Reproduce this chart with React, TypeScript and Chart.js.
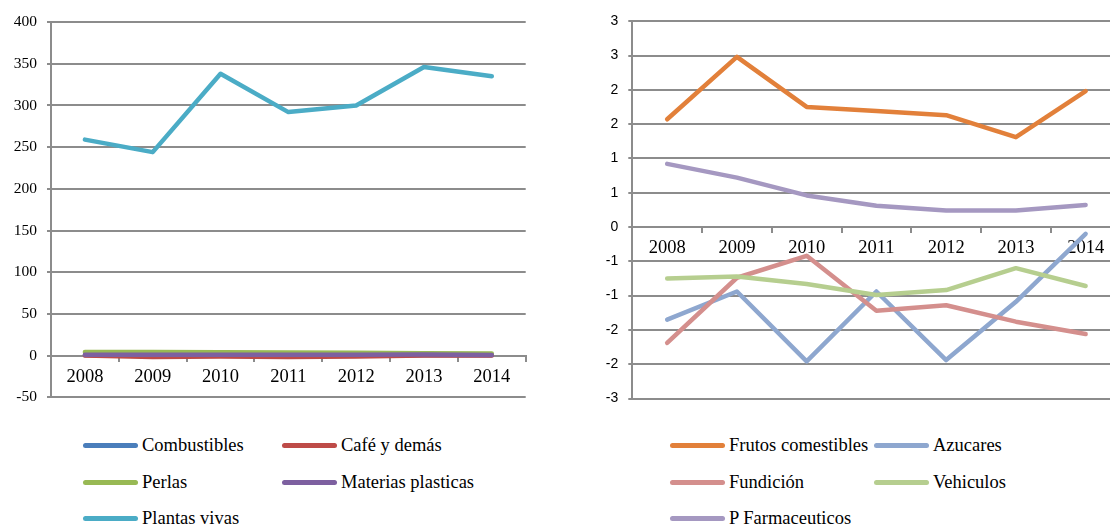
import React, { useEffect, useRef } from "react";
import { Chart, registerables } from "chart.js";

Chart.register(...registerables);

const years = ["2008", "2009", "2010", "2011", "2012", "2013", "2014"];

// Left chart series
const leftNames = ["Combustibles", "Café y demás", "Perlas", "Materias plasticas", "Plantas vivas"];
const combustibles = [0.5, 0.3, 0.4, 0.3, 0.3, 0.5, 0.4];
const cafe = [0.3, -1.5, -1.0, -1.5, -1.0, 0.2, 0.3];
const perlas = [4.5, 4.3, 4.0, 3.8, 3.6, 3.0, 2.5];
const materias = [1.0, 1.0, 1.2, 1.0, 1.0, 1.5, 0.8];
const plantas = [259, 244, 338, 292, 300, 346, 335];
const leftColors = ["#4A7EBB", "#BE4B48", "#98B954", "#7D60A0", "#4BACC6"];

// Right chart series
const rightNames = ["Frutos comestibles", "Azucares", "Fundición", "Vehiculos", "P Farmaceuticos"];
const frutos = [1.57, 2.48, 1.75, 1.69, 1.63, 1.31, 1.98];
const azucares = [-1.35, -0.94, -1.96, -0.94, -1.94, -1.09, -0.1];
const fundicion = [-1.69, -0.74, -0.42, -1.22, -1.14, -1.38, -1.56];
const vehiculos = [-0.75, -0.72, -0.83, -0.99, -0.92, -0.6, -0.86];
const farma = [0.92, 0.72, 0.46, 0.31, 0.24, 0.24, 0.32];
const rightColors = ["#E2803A", "#8EA7CF", "#D48F8D", "#B6CE8F", "#A598C1"];

const leftYMin = -50;
const leftYMax = 400;
const leftYStep = 50;
const rightYMin = -2.5;
const rightYMax = 3;
const rightYStep = 0.5;

const GRID = "#8c8c8c";
const SERIF = "'Liberation Serif', Tinos, 'DejaVu Serif', serif";
const SANS = "'Liberation Sans', Arial, sans-serif";

function excelRound(v: number) {
  const r = Math.sign(v) * Math.round(Math.abs(v));
  return r === 0 ? "0" : String(r);
}

function makeConfig(
  names: string[],
  series: number[][],
  colors: string[],
  yMin: number,
  yMax: number,
  yStep: number,
  yWidth: number,
  padding: { top: number; bottom: number; left: number; right: number },
  yFont: any,
  yFormat: (v: number) => string
): any {
  const n = names.length;
  return {
    type: "line",
    data: {
      labels: years,
      datasets: series.map((d, i) => ({
        label: names[i],
        data: d,
        borderColor: colors[i],
        backgroundColor: colors[i],
        borderWidth: 4.5,
        pointRadius: 0,
        tension: 0,
        borderCapStyle: "round",
        borderJoinStyle: "round",
        order: n - i,
        fill: false,
      })),
    },
    options: {
      responsive: false,
      animation: false,
      events: [],
      layout: { padding },
      plugins: { legend: { display: false }, tooltip: { enabled: false }, title: { display: false } },
      scales: {
        x: {
          type: "category",
          offset: true,
          position: { y: 0 },
          grid: {
            offset: true,
            drawOnChartArea: false,
            drawTicks: true,
            tickLength: 5,
            color: GRID,
            lineWidth: 2,
          },
          border: { display: true, color: GRID, width: 2 },
          ticks: {
            color: "#000",
            font: { family: SERIF, size: 18.5 },
            padding: 5,
            maxRotation: 0,
            autoSkip: false,
          },
          afterFit: (s: any) => {
            s.height = 0;
          },
        },
        y: {
          min: yMin,
          max: yMax,
          grid: {
            color: GRID,
            lineWidth: 2,
            drawTicks: true,
            tickLength: 4,
          },
          border: { display: true, color: GRID, width: 2 },
          ticks: {
            stepSize: yStep,
            color: "#000",
            font: yFont,
            padding: 10,
            callback: (v: any) => yFormat(Number(v)),
          },
          afterFit: (s: any) => {
            s.width = yWidth;
          },
        },
      },
    },
  };
}

function Legend({ names, colors, left, col2, rows }: { names: string[]; colors: string[]; left: number; col2: number; rows: number[] }) {
  return (
    <>
      {names.map((nm, i) => {
        const col = i % 2;
        const row = Math.floor(i / 2);
        const x = col === 0 ? left : col2;
        return (
          <div
            key={nm}
            style={{
              position: "absolute",
              left: x,
              top: rows[row] - 12,
              height: 24,
              display: "flex",
              alignItems: "center",
              whiteSpace: "nowrap",
              fontFamily: SERIF,
              fontSize: 18.5,
              color: "#000",
            }}
          >
            <span
              style={{
                display: "inline-block",
                width: 55,
                height: 5,
                borderRadius: 3,
                background: colors[i],
                marginRight: 4,
              }}
            />
            <span>{nm}</span>
          </div>
        );
      })}
    </>
  );
}

export default function App() {
  const leftRef = useRef<HTMLCanvasElement>(null);
  const rightRef = useRef<HTMLCanvasElement>(null);

  useEffect(() => {
    const lc = new Chart(
      leftRef.current!,
      makeConfig(
        leftNames,
        [combustibles, cafe, perlas, materias, plantas],
        leftColors,
        leftYMin,
        leftYMax,
        leftYStep,
        51,
        { top: 22, bottom: 22.6, left: 0, right: 29.3 },
        { family: SERIF, size: 15.5 },
        (v) => String(v)
      )
    );
    const rc = new Chart(
      rightRef.current!,
      makeConfig(
        rightNames,
        [frutos, azucares, fundicion, vehiculos, farma],
        rightColors,
        rightYMin,
        rightYMax,
        rightYStep,
        72.3,
        { top: 21.2, bottom: 21.5, left: 0, right: 9.5 },
        { family: SANS, size: 14 },
        excelRound
      )
    );
    return () => {
      lc.destroy();
      rc.destroy();
    };
  }, []);

  return (
    <div
      style={{
        position: "absolute",
        left: 0,
        top: 0,
        width: 1110,
        height: 527,
        overflow: "hidden",
        background: "#fff",
      }}
    >
      <canvas ref={leftRef} width={555} height={420} style={{ position: "absolute", left: 0, top: 0 }} />
      <canvas ref={rightRef} width={570} height={420} style={{ position: "absolute", left: 560, top: 0 }} />
      <Legend names={leftNames} colors={leftColors} left={83} col2={282} rows={[445, 482, 518]} />
      <Legend names={rightNames} colors={rightColors} left={670} col2={874} rows={[445, 482, 518]} />
    </div>
  );
}
